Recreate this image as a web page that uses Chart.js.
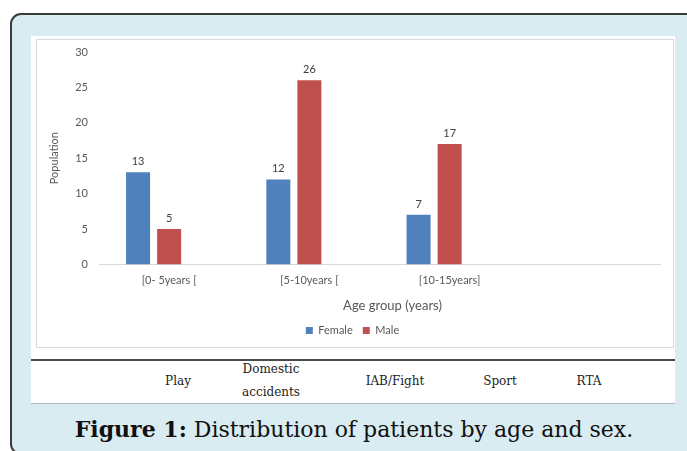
<!DOCTYPE html>
<html>
<head>
<meta charset="utf-8">
<script src="https://cdn.jsdelivr.net/npm/chart.js@4/dist/chart.umd.min.js"></script>
<style>
  html, body { margin: 0; padding: 0; background: #fff; width: 687px; height: 451px; overflow: hidden; }
  #frame {
    position: absolute; left: 10px; top: 13px; width: 720px; height: 438px;
    background: #d9ecf1; border: 2px solid #3c3c3c; border-radius: 11px;
  }
  #panel { position: absolute; left: 31px; top: 36px; width: 644px; height: 367px; background: #fff; border-bottom: 1px solid #b5b5b5; }
  #chartBox { position: absolute; left: 36px; top: 39px; width: 636px; height: 307px; border: 1px solid #d9d9d9; }
  #chartBox canvas { display: block; }
  #rule { position: absolute; left: 31px; top: 359px; width: 644px; height: 2px; background: #4a4a4a; }
  .cell { position: absolute; transform: translate(-50%, -50%); font-family: "DejaVu Serif", serif; font-size: 12px; color: #222; white-space: nowrap; text-align: center; }
  #caption { position: absolute; left: 0; width: 708px; top: 416px; text-align: center; font-family: "DejaVu Serif", serif; font-size: 22px; color: #111; white-space: nowrap; }
</style>
</head>
<body>
<div id="frame"></div>
<div id="panel"></div>
<div id="chartBox"><canvas id="ageChart" width="636" height="307"></canvas></div>
<div id="rule"></div>
<div class="cell" style="left:178px; top:381px;">Play</div>
<div class="cell" style="left:271px; top:369px;">Domestic</div>
<div class="cell" style="left:271px; top:392px;">accidents</div>
<div class="cell" style="left:395px; top:381px;">IAB/Fight</div>
<div class="cell" style="left:500px; top:381px;">Sport</div>
<div class="cell" style="left:589px; top:381px;">RTA</div>
<div id="caption"><b>Figure 1:</b> Distribution of patients by age and sex.</div>

<script>
// ---------------- Daten ----------------
const ageGroups = ['[0- 5years [', '[5-10years [', '[10-15years]', ''];
const femaleValues = [13, 12, 7];
const maleValues = [5, 26, 17];
const spareValues = [];            // leere dritte Reihe wie im Original
const yTicks = [0, 5, 10, 15, 20, 25, 30];

const grey = '#595959';
const fontFamily = 'Lato, "Open Sans", sans-serif';
const font = { family: fontFamily, size: 11 };
const xTitle = 'Age group (years)';

// Werte über den Balken + x-Achsentitel (im Original etwas nach rechts versetzt)
const valueLabels = {
  id: 'valueLabels',
  afterDatasetsDraw(chart) {
    const ctx = chart.ctx;
    ctx.save();
    ctx.font = '11px ' + fontFamily;
    ctx.fillStyle = '#404040';
    ctx.textAlign = 'center';
    ctx.textBaseline = 'bottom';
    chart.data.datasets.forEach((ds, i) => {
      chart.getDatasetMeta(i).data.forEach((bar, j) => {
        if (ds.data[j] == null) return;
        ctx.fillText(ds.data[j], bar.x, bar.y - 5);
      });
    });
    const xs = chart.scales.x;
    ctx.font = '13px ' + fontFamily;
    ctx.fillStyle = grey;
    ctx.textBaseline = 'middle';
    ctx.fillText(xTitle, (xs.left + xs.right) / 2 + 13, xs.bottom - 9);
    ctx.restore();
  }
};

new Chart(document.getElementById('ageChart'), {
  type: 'bar',
  data: {
    labels: ageGroups,
    datasets: [
      { label: 'Female', data: femaleValues, backgroundColor: '#4f81bd' },
      { label: 'Male', data: maleValues, backgroundColor: '#c0504d' },
      { label: '', data: spareValues, backgroundColor: '#9bbb59' }
    ]
  },
  options: {
    responsive: false,
    animation: false,
    categoryPercentage: 0.664,
    barPercentage: 0.774,
    layout: { padding: { left: 8, right: 13, top: 12, bottom: 1 } },
    plugins: {
      legend: {
        position: 'bottom',
        labels: {
          boxWidth: 7, boxHeight: 7, color: grey, font: font, padding: 10,
          filter: item => item.text !== ''
        }
      },
      tooltip: { enabled: false }
    },
    scales: {
      x: {
        grid: { display: false, drawTicks: false },
        border: { display: true, color: '#d9d9d9', width: 1 },
        ticks: { color: grey, font: font, padding: 9 },
        // Platz für den Titel, gezeichnet im Plugin
        title: { display: true, text: xTitle, color: 'rgba(0,0,0,0)', font: { family: fontFamily, size: 12 }, padding: { top: 3, bottom: 2 } }
      },
      y: {
        min: 0, max: 30,
        afterBuildTicks: s => { s.ticks = yTicks.map(v => ({ value: v })); },
        afterFit: s => { s.width = 54; s.paddingTop = 0; s.paddingBottom = 0; },
        grid: { display: false, drawTicks: false },
        border: { display: false },
        ticks: { color: grey, font: font, padding: 11 },
        title: { display: true, text: 'Population', color: grey, font: font, padding: { top: 2.4, bottom: 0 } }
      }
    }
  },
  plugins: [valueLabels]
});
</script>
</body>
</html>
